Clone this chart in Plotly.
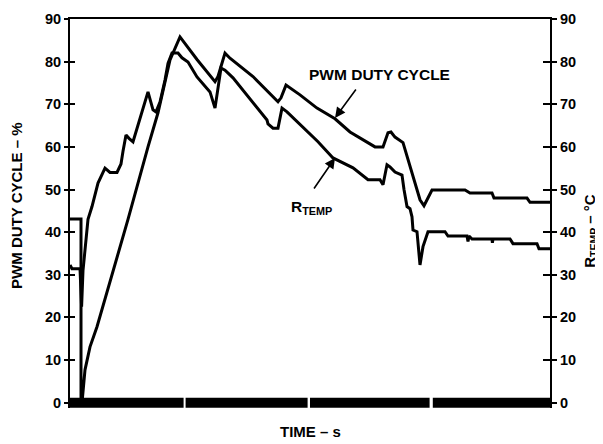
import plotly.graph_objects as go

# time (s) and values
pwm_t = [0, 2.75, 2.75, 3.0, 3.75, 5.0, 6.75, 14.5, 19.5, 22, 25, 27.5, 31.75, 36.25, 37, 38, 38.75,
         40, 45.75, 52, 52.75, 54, 57.5, 61.75, 66.25, 70, 76.25, 78.25, 79.5, 80.25, 81.25, 83.25,
         85.75, 87.5, 88.5, 89.25, 90.5, 98.75, 100, 105.5, 106, 114.25, 115, 120]
pwm_v = [43.1, 43.1, 0, 0, 7.7, 13.1, 17.8, 43, 60, 68, 80.4, 85.8, 80.5, 75.3, 76.5, 80, 82,
         80.8, 76.5, 70.6, 71.5, 74.5, 72.2, 69.1, 66.6, 63.5, 60, 60, 63.3, 63.5, 62.3, 61,
         53, 47.6, 46.2, 47.6, 49.9, 49.9, 49.2, 49.2, 48, 48, 47, 47]

temp_t = [0, 0.5, 2.5, 2.9, 3.25, 3.75, 4.5, 5.5, 7, 8.75, 10, 11.75, 12.75, 13.25, 14, 14.75, 15.75,
          19.5, 20.75, 21.5, 22.5, 23.75, 24.5, 25.5, 27, 28, 29.5, 31.75, 35, 36.25, 37, 37.75,
          38.75, 40.75, 49.25, 49.5, 50.75, 52, 53, 54.25, 62, 65.75, 70.75, 74.5, 77.5, 78.25,
          79.25, 80, 81.25, 83, 83.5, 84.25, 85, 85.5, 85.75, 86.75, 87.5, 88.25, 89.5, 93.75,
          94.5, 99.25, 99.5, 99.75, 100.5, 105.5, 105.6, 105.75, 110, 110.75, 116.75, 117.25, 120]
temp_v = [32.3, 31.4, 31.4, 22.5, 31, 36, 43, 46, 51.5, 55, 54, 54, 56, 59, 62.8, 62, 61.2,
          72.9, 68.7, 68.2, 70.5, 75.7, 79.6, 82, 82, 80.9, 79.9, 76.4, 72.9, 69.1, 73.4, 78.5,
          78, 76.2, 66.3, 65.4, 64.4, 64.4, 69.1, 68.2, 61.2, 57.4, 55.1, 52.3, 52.3, 51.1,
          55.8, 55.3, 54.1, 53.4, 50, 46, 45.5, 43.6, 40.5, 40.1, 32.3, 36.6, 40.1, 40.1,
          39.1, 39.1, 37.8, 39.1, 38.4, 38.4, 37.5, 38.4, 38.4, 37.3, 37.3, 36.1, 36.1]

# time-base bar segments along the bottom
bar_start = [-0.25, 28.9, 60.0, 90.7]
bar_end = [28.4, 59.4, 89.9, 120.2]

y_ticks = [0, 10, 20, 30, 40, 50, 60, 70, 80, 90]
y_ticktext = ["<b>%d</b>" % v for v in y_ticks]

Y_MIN = -1.25  # room below zero for the time-base bar
FONT = "Liberation Sans, Arial, sans-serif"
fig = go.Figure()

fig.add_trace(go.Scatter(x=pwm_t, y=pwm_v, mode="lines", line=dict(color="black", width=3),
                         showlegend=False, hoverinfo="skip"))
fig.add_trace(go.Scatter(x=temp_t, y=temp_v, mode="lines", line=dict(color="black", width=3),
                         showlegend=False, hoverinfo="skip"))

for s, e in zip(bar_start, bar_end):
    fig.add_trace(go.Scatter(x=[s, e], y=[0, 0], mode="lines", line=dict(color="black", width=10),
                             showlegend=False, hoverinfo="skip"))

base = dict(range=[Y_MIN, 90], tickvals=y_ticks, showgrid=False, zeroline=False, automargin=False,
            linecolor="black", linewidth=2, tickcolor="black", tickwidth=2)
tf = dict(family=FONT, size=14.5, color="black")

fig.update_layout(
    width=595, height=436,
    margin=dict(l=62, r=53, t=11, b=35.7, autoexpand=False),
    plot_bgcolor="white", paper_bgcolor="white",
    xaxis=dict(range=[0, 120], showticklabels=False, ticks="", showgrid=False, zeroline=False,
               showline=False, automargin=False),
    xaxis2=dict(range=[0, 120], overlaying="x", side="top", showticklabels=False, ticks="",
                showgrid=False, zeroline=False, showline=True, linecolor="black", linewidth=2,
                automargin=False, anchor="y"),
    yaxis=dict(showline=True, ticks="outside", ticklen=4, side="left", ticktext=y_ticktext,
               tickfont=tf, **base),
    yaxis2=dict(overlaying="y", side="right", showline=True, ticks="outside", ticklen=5,
                anchor="x", ticktext=y_ticktext, tickfont=tf, **base),
    yaxis3=dict(overlaying="y", side="left", showline=False, ticks="inside", ticklen=5,
                showticklabels=False, anchor="x", **base),
    yaxis4=dict(overlaying="y", side="right", showline=False, ticks="inside", ticklen=7,
                showticklabels=False, anchor="x", **base),
)
# dummy traces to activate overlay axes
for ax in ["y2", "y3", "y4"]:
    fig.add_trace(go.Scatter(x=[None], y=[None], yaxis=ax, showlegend=False, hoverinfo="skip"))
fig.add_trace(go.Scatter(x=[None], y=[None], xaxis="x2", showlegend=False, hoverinfo="skip"))

title_font = dict(family=FONT, size=15, color="black")
fig.add_annotation(text="<b>PWM DUTY CYCLE – %</b>", xref="paper", yref="paper", x=-0.11, y=0.52,
                   textangle=-90, showarrow=False, font=title_font, xanchor="center", yanchor="middle")
fig.add_annotation(text="<b>R<sub>TEMP</sub> – °C</b>", xref="paper", yref="paper", x=1.083, y=0.455,
                   textangle=-90, showarrow=False, font=title_font, xanchor="center", yanchor="middle")
fig.add_annotation(text="<b>TIME – s</b>", xref="paper", yref="paper", x=0.5, y=-0.06,
                   showarrow=False, font=title_font, xanchor="center", yanchor="middle")

label_font = dict(family=FONT, size=15.5, color="black")
fig.add_annotation(text="<b>PWM DUTY CYCLE</b>", x=77.25, y=76.9, showarrow=False, font=label_font,
                   xanchor="center", yanchor="middle")
fig.add_annotation(text="<b>R<sub>TEMP</sub></b>", x=60.25, y=45.7, showarrow=False, font=label_font,
                   xanchor="center", yanchor="middle")
fig.add_annotation(x=66.25, y=66.8, ax=71.75, ay=73.8, axref="x", ayref="y", text="",
                   showarrow=True, arrowhead=2, arrowsize=1.3, arrowwidth=1.6, arrowcolor="black")
fig.add_annotation(x=66.25, y=57.4, ax=60.75, ay=49.9, axref="x", ayref="y", text="",
                   showarrow=True, arrowhead=2, arrowsize=1.3, arrowwidth=1.6, arrowcolor="black")

fig.write_html("out.html")
